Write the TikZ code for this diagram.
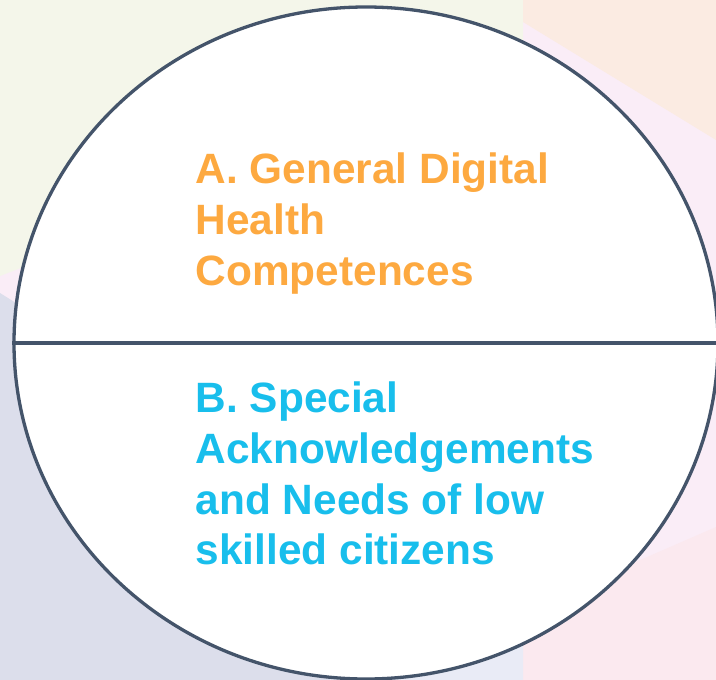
\documentclass[tikz,border=0pt]{standalone}
\usepackage{fontspec}
\setmainfont{Liberation Sans}
\usetikzlibrary{shapes.geometric}

\definecolor{bgGreen}{HTML}{F4F6EA}
\definecolor{bgPeach}{HTML}{FBEBE2}
\definecolor{bgLilac}{HTML}{FAEDF7}
\definecolor{bgRose}{HTML}{FBE9EF}
\definecolor{bgSlate}{HTML}{DCDEEB}
\definecolor{bgMist}{HTML}{E9EBF6}
\definecolor{rimColor}{HTML}{44546A}
\definecolor{orangeText}{HTML}{FDA940}
\definecolor{cyanText}{HTML}{18BEEC}

\tikzset{
  disc/.style={ellipse, draw=rimColor, line width=3.3pt, fill=white,
    inner sep=0pt, minimum width=704pt, minimum height=672pt},
  divider/.style={draw=rimColor, line width=3.3pt},
  blocktext/.style={anchor=north west, inner sep=0pt, align=left,
    font=\fontsize{42.4}{50.6}\selectfont\bfseries},
}

\begin{document}
\begin{tikzpicture}[x=1pt,y=-1pt]
  \useasboundingbox (0,0) rectangle (716,680);
  \clip (0,0) rectangle (716,680);

  % pastel backdrop panels
  \fill[bgLilac] (0,0) rectangle (716,680);
  \fill[bgGreen] (0,0) -- (523,0) -- (523,120) -- (300,160) -- (0,276) -- cycle;
  \fill[bgPeach] (523,0) -- (716,0) -- (716,140) -- (523,22) -- cycle;
  \fill[bgRose] (716,527) -- (716,680) -- (523,680) -- (523,611) -- cycle;
  \fill[bgSlate] (0,293) -- (330,500) -- (330,680) -- (0,680) -- cycle;
  \fill[bgMist] (330,500) -- (523,611) -- (523,680) -- (330,680) -- cycle;

  % the disc and its dividing line
  \node[disc] (disc) at (366,343) {};
  \draw[divider] (disc.west) -- (disc.east);

  % the two labelled halves
  \node[blocktext, text=orangeText] (partA) at (195.5,153)
    {A. General Digital\\Health\\Competences};
  \node[blocktext, text=cyanText] (partB) at (195.5,382)
    {B. Special\\Acknowledgements\\and Needs of low\\skilled citizens};
\end{tikzpicture}
\end{document}
